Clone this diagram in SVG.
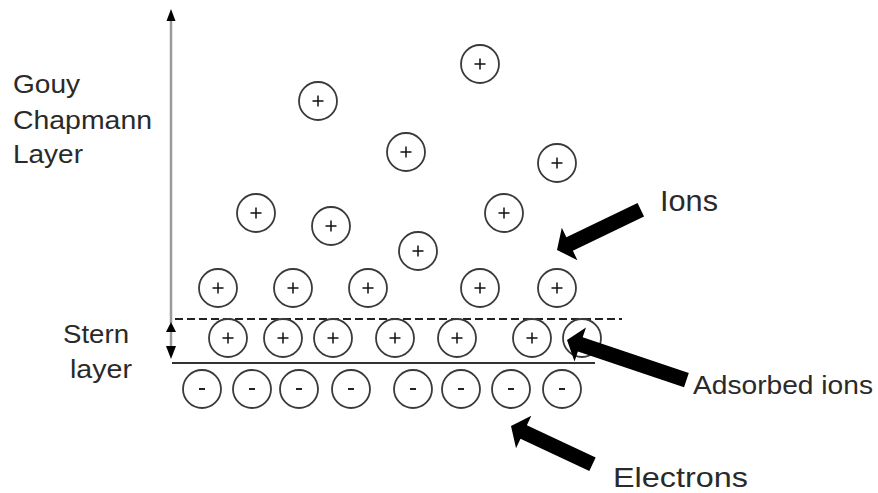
<svg xmlns="http://www.w3.org/2000/svg" xmlns:xlink="http://www.w3.org/1999/xlink" width="878" height="493" viewBox="0 0 878 493">
<style>
.ion circle{fill:none;stroke:#3a3a3a;stroke-width:1.8}
.ion path{stroke:#111;stroke-width:1.5;fill:none}
.neg path{stroke:#222;stroke-width:2}
.lbl{font-family:"Liberation Sans",Arial,sans-serif;fill:#2a2a2a}
.blk{fill:#000}
</style>
<defs>
<g id="pos" class="ion"><circle r="19"/><path d="M-5.5,0H5.5M0,-5.5V5.5"/></g>
<g id="neg" class="ion neg"><circle r="19"/><path d="M-3,0H3"/></g>
<g id="empty" class="ion"><circle r="19"/></g>
</defs>
<rect width="878" height="493" fill="#fff"/>
<g id="labels">
<text class="lbl" x="13" y="93" font-size="25" textLength="67" lengthAdjust="spacingAndGlyphs">Gouy</text>
<text class="lbl" x="13" y="129" font-size="25" textLength="139" lengthAdjust="spacingAndGlyphs">Chapmann</text>
<text class="lbl" x="13" y="163" font-size="25" textLength="70" lengthAdjust="spacingAndGlyphs">Layer</text>
<text class="lbl" x="63" y="343" font-size="26" textLength="66" lengthAdjust="spacingAndGlyphs">Stern</text>
<text class="lbl" x="70" y="378" font-size="26" textLength="62" lengthAdjust="spacingAndGlyphs">layer</text>
<text class="lbl" x="660" y="211" font-size="30" textLength="58" lengthAdjust="spacingAndGlyphs">Ions</text>
<text class="lbl" x="693" y="394" font-size="25" textLength="180" lengthAdjust="spacingAndGlyphs">Adsorbed ions</text>
<text class="lbl" x="613" y="487" font-size="28" textLength="135" lengthAdjust="spacingAndGlyphs">Electrons</text>
</g>
<g id="boundaries">
<line x1="175" y1="319" x2="622" y2="319" stroke="#222" stroke-width="2" stroke-dasharray="8 4"/>
<line x1="172" y1="363" x2="595" y2="363" stroke="#333" stroke-width="2"/>
</g>
<g id="diffuse-ions">
<use href="#pos" x="480" y="64"/>
<use href="#pos" x="318" y="101"/>
<use href="#pos" x="406" y="152"/>
<use href="#pos" x="557" y="163"/>
<use href="#pos" x="256" y="213"/>
<use href="#pos" x="331" y="226"/>
<use href="#pos" x="504" y="213"/>
<use href="#pos" x="418" y="251"/>
<use href="#pos" x="218" y="288"/>
<use href="#pos" x="293" y="288"/>
<use href="#pos" x="368" y="288"/>
<use href="#pos" x="480" y="288"/>
<use href="#pos" x="557" y="288"/>
</g>
<g id="stern-ions">
<use href="#pos" x="228" y="338"/>
<use href="#pos" x="283" y="338"/>
<use href="#pos" x="333" y="338"/>
<use href="#pos" x="395" y="338"/>
<use href="#pos" x="457" y="338"/>
<use href="#pos" x="532" y="338"/>
<use href="#empty" x="582" y="338"/>
</g>
<g id="electrons">
<use href="#neg" x="202" y="389"/>
<use href="#neg" x="252" y="389"/>
<use href="#neg" x="299" y="389"/>
<use href="#neg" x="351" y="389"/>
<use href="#neg" x="413" y="389"/>
<use href="#neg" x="461" y="389"/>
<use href="#neg" x="511" y="389"/>
<use href="#neg" x="562" y="389"/>
</g>
<g id="connectors">
<line x1="171" y1="20" x2="171" y2="323" stroke="#9a9a9a" stroke-width="2.5"/>
<polygon class="blk" points="171,9 166.5,21 175.5,21"/>
<line x1="171" y1="330" x2="171" y2="347" stroke="#9a9a9a" stroke-width="2.5"/>
<polygon class="blk" points="171,322 166,332 176,332"/>
<polygon class="blk" points="171,359 166,346 176,346"/>
<polygon class="blk" transform="translate(557,250) rotate(154.3)" points="-93,-7.5 -14,-7.5 -14,-18 0,0 -14,18 -14,7.5 -93,7.5"/>
<polygon class="blk" transform="translate(567,340) rotate(198.6)" points="-126,-7.5 -14,-7.5 -14,-18 0,0 -14,18 -14,7.5 -126,7.5"/>
<polygon class="blk" transform="translate(511,426) rotate(205.1)" points="-90,-7.5 -14,-7.5 -14,-18 0,0 -14,18 -14,7.5 -90,7.5"/>
</g>
</svg>
